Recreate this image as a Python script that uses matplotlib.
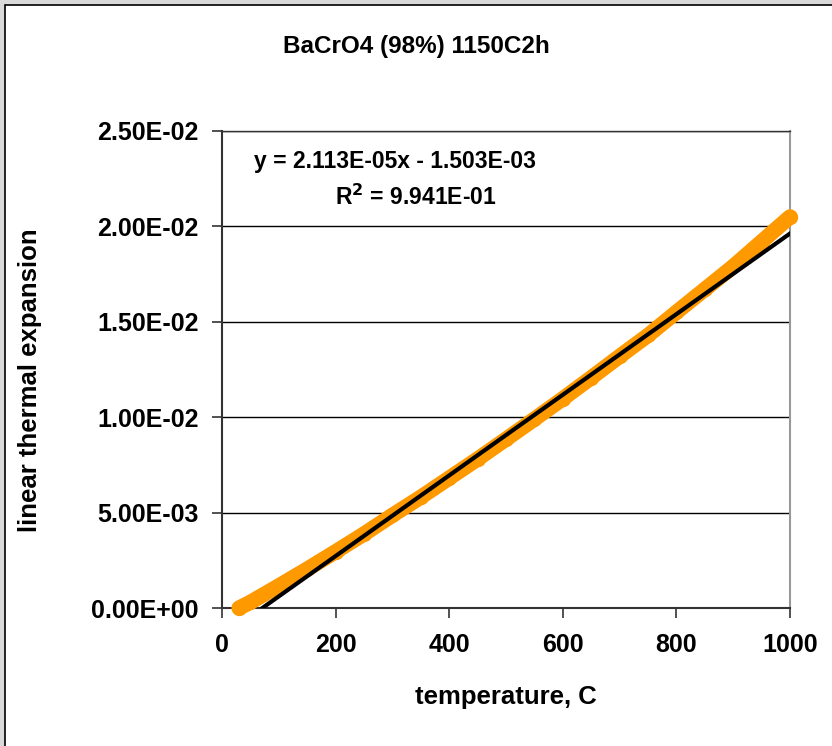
import numpy as np
import matplotlib.pyplot as plt
from matplotlib.patches import Rectangle

plt.rcParams['font.family'] = ['Liberation Sans', 'DejaVu Sans']
plt.rcParams['font.weight'] = 'bold'

# measured dilatometer data
temp_c = [30, 50, 100, 150, 200, 250, 300, 350, 400, 450, 500,
          550, 600, 650, 700, 750, 800, 850, 900, 950, 1000]
expansion = [0.0, 0.0003, 0.00116, 0.00204, 0.00295, 0.00388, 0.00486,
             0.00581, 0.00681, 0.00781, 0.00885, 0.0099, 0.01097, 0.01207,
             0.01319, 0.01429, 0.0155, 0.0167, 0.0179, 0.0192, 0.0205]

# linear fit reported on the chart
slope = 2.113E-05
intercept = -1.503E-03
r2 = 9.941E-01

x_ticks = [0, 200, 400, 600, 800, 1000]
y_ticks = [0.0, 0.005, 0.010, 0.015, 0.020, 0.025]
y_tick_labels = ['0.00E+00', '5.00E-03', '1.00E-02', '1.50E-02', '2.00E-02', '2.50E-02']

W, H = 832, 746
fig = plt.figure(figsize=(W / 100, H / 100), dpi=100)
fig.patch.set_facecolor('#d9d9d9')
# white chart area with a black frame
fig.patches.append(Rectangle((5 / W, -0.1), 1.2, 1 - 5 / H + 0.1,
                             transform=fig.transFigure, facecolor='white',
                             edgecolor='black', linewidth=1.2, zorder=-5))

# plot area in pixels: left 222, right 790, top 131, bottom 608
ax = fig.add_axes([222 / W, 1 - 608 / H, (790 - 222) / W, (608 - 131) / H])
ax.set_facecolor('white')

ax.plot(temp_c, expansion, color='#ff9900', linewidth=11,
        solid_capstyle='round', solid_joinstyle='round', zorder=3, clip_on=False)
ax.plot(temp_c, expansion, 'o', color='#ff9900', markersize=10, zorder=3,
        clip_on=False)

fit_x = np.array([temp_c[0], temp_c[-1]])
ax.plot(fit_x, slope * fit_x + intercept, color='black', linewidth=3, zorder=4)

ax.set_xlim(0, 1000)
ax.set_ylim(0, 0.025)
ax.set_xticks(x_ticks)
ax.set_xticklabels([str(t) for t in x_ticks])
ax.set_yticks(y_ticks)
ax.set_yticklabels(y_tick_labels)
ax.grid(axis='y', color='black', linewidth=1.0)
ax.set_axisbelow(True)

ax.tick_params(axis='both', direction='out', length=7, width=1.2,
               color='#333333', labelsize=18)
ax.tick_params(axis='y', pad=10)
ax.tick_params(axis='x', pad=11)
for side in ['left', 'bottom']:
    ax.spines[side].set_color('#333333')
    ax.spines[side].set_linewidth(1.5)
ax.spines['right'].set_color('#999999')
ax.spines['right'].set_linewidth(1.5)
ax.spines['top'].set_color('#333333')
ax.spines['top'].set_linewidth(1.0)

ax.set_xlabel('temperature, C', fontsize=18.5, fontweight='bold', va='center')
ax.xaxis.set_label_coords(0.5, (608 - 697) / 477)
ax.set_ylabel('linear thermal expansion', fontsize=18.5, fontweight='bold',
              va='center')
ax.yaxis.set_label_coords((30 - 222) / 568, 0.478)

fig.text(0.5, 1 - 47 / H, 'BaCrO4 (98%) 1150C2h', ha='center', va='center',
         fontsize=17.5, fontweight='bold')

ax.text(0.305, 0.937, 'y = %.3E' % slope + 'x - %.3E' % abs(intercept),
        transform=ax.transAxes, fontsize=16.5, fontweight='bold',
        ha='center', va='center')
ax.text(0.342, 0.860, 'R$^{\\mathbf{2}}$ = %.3E' % r2,
        transform=ax.transAxes, fontsize=16.5, fontweight='bold',
        ha='center', va='center')

fig.savefig('out.png', dpi=100, facecolor=fig.get_facecolor())
